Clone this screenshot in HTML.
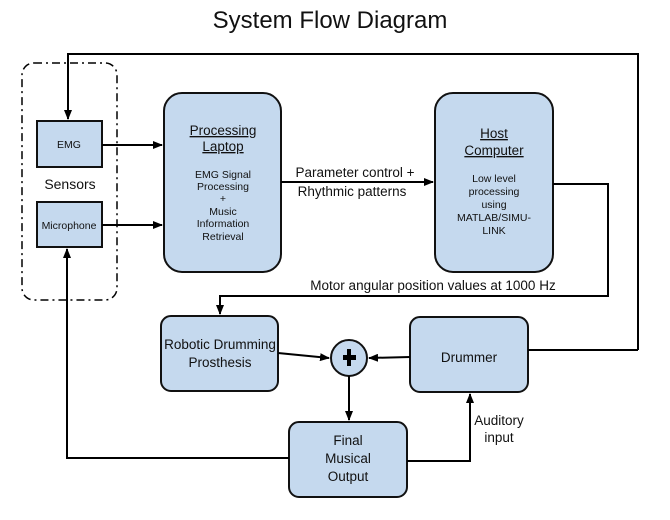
<!DOCTYPE html>
<html><head><meta charset="utf-8"><style>
body{margin:0;background:#fff}
svg text{font-family:"Liberation Sans",sans-serif;fill:#111}
</style></head><body>
<svg width="670" height="515" xmlns="http://www.w3.org/2000/svg">
<defs><marker id="a" markerWidth="10" markerHeight="8" refX="9" refY="4" orient="auto" markerUnits="userSpaceOnUse"><path d="M0,0L10,4L0,8z" fill="#000"/></marker></defs>
<text x="330" y="28" font-size="24" text-anchor="middle">System Flow Diagram</text>
<rect x="22" y="63" width="95" height="237" rx="12" fill="none" stroke="#000" stroke-width="1.5" stroke-dasharray="8,4,2,4"/>
<g fill="#c5d9ee" stroke="#111" stroke-width="2">
<rect x="37" y="121" width="65" height="46"/>
<rect x="37" y="202" width="65" height="45"/>
<rect x="164" y="93" width="117" height="179" rx="18"/>
<rect x="435" y="93" width="118" height="179" rx="18"/>
<rect x="161" y="316" width="117" height="75" rx="10"/>
<rect x="410" y="317" width="118" height="75" rx="10"/>
<rect x="289" y="422" width="118" height="75" rx="10"/>
<circle cx="349" cy="358" r="18"/>
</g>
<path d="M343,355h4v-6h4v6h5v5h-5v6h-4v-6h-4z" fill="#000"/>
<g fill="none" stroke="#000" stroke-width="2">
<path d="M638,350V54H68V119" marker-end="url(#a)"/>
<path d="M528,350H638"/>
<path d="M102,145H162" marker-end="url(#a)"/>
<path d="M102,225H162" marker-end="url(#a)"/>
<path d="M281,182H433" marker-end="url(#a)"/>
<path d="M553,184H608V296H220V314" marker-end="url(#a)"/>
<path d="M278,353L329,358" marker-end="url(#a)"/>
<path d="M410,357L369,358" marker-end="url(#a)"/>
<path d="M349,376V420" marker-end="url(#a)"/>
<path d="M289,458H67V249" marker-end="url(#a)"/>
<path d="M407,461H470V394" marker-end="url(#a)"/>
</g>
<g font-size="10.5" text-anchor="middle">
<text x="69" y="148">EMG</text>
<text x="69" y="229">Microphone</text>
<text x="223" y="178">EMG Signal</text>
<text x="223" y="190">Processing</text>
<text x="223" y="202">+</text>
<text x="223" y="215">Music</text>
<text x="223" y="227">Information</text>
<text x="223" y="240">Retrieval</text>
<text x="494" y="182">Low level</text>
<text x="494" y="195">processing</text>
<text x="494" y="208">using</text>
<text x="494" y="221">MATLAB/SIMU-</text>
<text x="494" y="234">LINK</text>
</g>
<g font-size="13.5" text-anchor="middle">
<text x="70" y="189" font-size="14">Sensors</text>
<text x="223" y="135" text-decoration="underline">Processing</text>
<text x="223" y="151" text-decoration="underline">Laptop</text>
<text x="494" y="138" text-decoration="underline">Host</text>
<text x="494" y="155" text-decoration="underline">Computer</text>
<text x="355" y="177">Parameter control +</text>
<text x="352" y="196">Rhythmic patterns</text>
<text x="433" y="290">Motor angular position values at 1000 Hz</text>
<text x="220" y="349">Robotic Drumming</text>
<text x="220" y="367">Prosthesis</text>
<text x="469" y="362">Drummer</text>
<text x="348" y="445">Final</text>
<text x="348" y="463">Musical</text>
<text x="348" y="481">Output</text>
<text x="499" y="425">Auditory</text>
<text x="499" y="442">input</text>
</g>
</svg>
</body></html>
